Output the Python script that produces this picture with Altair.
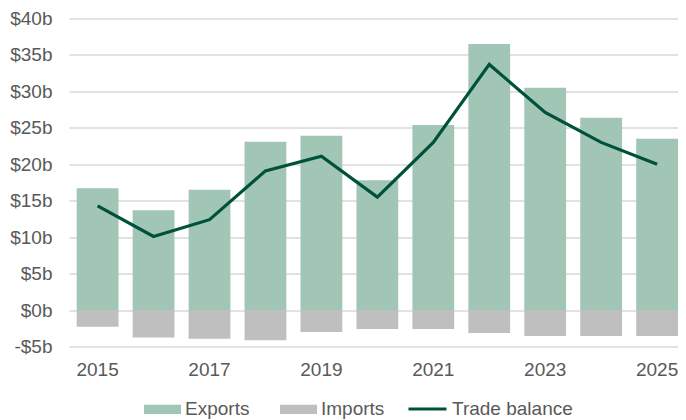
import altair as alt
import pandas as pd

years = list(range(2015, 2026))
exports = [16.7, 13.7, 16.5, 23.1, 23.9, 17.8, 25.4, 36.5, 30.5, 26.4, 23.5]
imports = [-2.3, -3.75, -3.95, -4.15, -3.0, -2.6, -2.6, -3.15, -3.55, -3.55, -3.55]
balance = [14.3, 10.1, 12.4, 19.1, 21.1, 15.5, 23.0, 33.7, 27.1, 23.0, 20.0]
bar_names = ["Exports", "Imports"]
bar_colors = ["#A1C6B5", "#BFBFBF"]
line_names = ["Trade balance"]
line_colors = ["#00513B"]
label_years = [2015, 2017, 2019, 2021, 2023, 2025]

FONT = "Liberation Sans"
TXT = "#595959"

bar_df = pd.DataFrame(
    [{"year": y, "series": "Exports", "value": v} for y, v in zip(years, exports)]
    + [{"year": y, "series": "Imports", "value": v} for y, v in zip(years, imports)]
)
line_df = pd.DataFrame({"year": years, "series": "Trade balance", "value": balance})

x = alt.X(
    "year:O",
    scale=alt.Scale(paddingInner=0.253, paddingOuter=0.0688, align=1),
    axis=alt.Axis(
        values=label_years, labelAngle=0, title=None, domain=False, ticks=False,
        labelPadding=14, labelFontSize=19, labelColor=TXT, labelFont=FONT, grid=False,
    ),
)
y = alt.Y(
    "value:Q",
    stack=None,
    scale=alt.Scale(domain=[-5, 40], nice=False),
    axis=alt.Axis(
        values=list(range(-5, 41, 5)),
        labelExpr="datum.value < 0 ? '-$' + abs(datum.value) + 'b' : '$' + datum.value + 'b'",
        title=None, domain=False, ticks=False, gridColor="#D9D9D9", gridWidth=1.3,
        labelPadding=17, labelFontSize=19, labelColor=TXT, labelFont=FONT,
    ),
)

rect_path = "M-1,-0.25L1,-0.25L1,0.25L-1,0.25Z"

fill = alt.Fill(
    "series:N",
    scale=alt.Scale(domain=bar_names, range=bar_colors),
    legend=alt.Legend(
        orient="none", legendX=75, legendY=372, direction="horizontal", title=None,
        symbolType=rect_path, symbolSize=1369, labelFontSize=19, labelColor=TXT,
        labelFont=FONT, columnPadding=30, labelOffset=4, symbolStrokeWidth=0,
        symbolOpacity=1,
    ),
)
stroke = alt.Stroke(
    "series:N",
    scale=alt.Scale(domain=line_names, range=line_colors),
    legend=alt.Legend(
        orient="none", legendX=338, legendY=370, direction="horizontal", title=None,
        symbolType="M-1,0L1,0", symbolSize=1444, labelFontSize=19, labelColor=TXT,
        labelFont=FONT, labelOffset=4, symbolStrokeWidth=3, symbolOpacity=1,
    ),
)

bars = alt.Chart(bar_df).mark_bar(opacity=1).encode(x=x, y=y, fill=fill)
line = alt.Chart(line_df).mark_line(strokeWidth=3.2).encode(x=x, y=y, stroke=stroke)

chart = (
    alt.layer(bars, line)
    .properties(
        width=609, height=328,
        padding={"left": 61, "top": 10.5, "right": 0, "bottom": 73},
        autosize=alt.AutoSizeParams(type="none"),
    )
    .configure_view(stroke=None)
)

chart.save("out.html", embed_options={"renderer": "svg", "actions": False})
